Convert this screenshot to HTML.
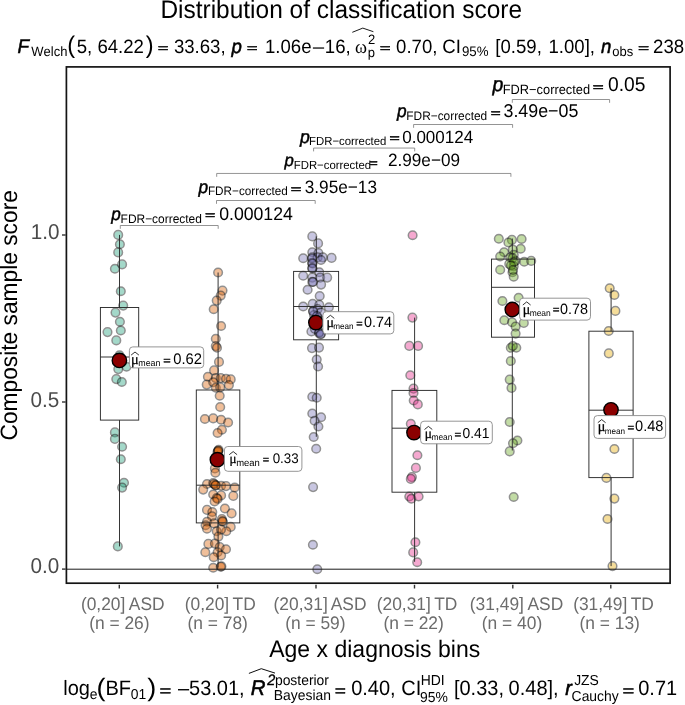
<!DOCTYPE html>
<html lang="en"><head><meta charset="utf-8"><title>Distribution of classification score</title>
<style>
html,body{margin:0;padding:0;background:#fff;}
body{width:685px;height:705px;overflow:hidden;font-family:"Liberation Sans",sans-serif;}
svg{display:block;}
text{white-space:pre;font-kerning:none;text-rendering:geometricPrecision;}
</style></head><body>
<svg width="685" height="705" viewBox="0 0 685 705">
<rect x="0" y="0" width="685" height="705" fill="#ffffff"/>
<g fill="#1B9E77" fill-opacity="0.4" stroke="#000" stroke-opacity="0.43" stroke-width="1.5">
<circle cx="118.2" cy="234.9" r="3.7" stroke="none"/><circle cx="118.2" cy="234.9" r="4.3" fill="none"/>
<circle cx="119.9" cy="244.3" r="3.7" stroke="none"/><circle cx="119.9" cy="244.3" r="4.3" fill="none"/>
<circle cx="118.2" cy="252.4" r="3.7" stroke="none"/><circle cx="118.2" cy="252.4" r="4.3" fill="none"/>
<circle cx="122.1" cy="264.4" r="3.7" stroke="none"/><circle cx="122.1" cy="264.4" r="4.3" fill="none"/>
<circle cx="114.9" cy="268.8" r="3.7" stroke="none"/><circle cx="114.9" cy="268.8" r="4.3" fill="none"/>
<circle cx="120.8" cy="291.3" r="3.7" stroke="none"/><circle cx="120.8" cy="291.3" r="4.3" fill="none"/>
<circle cx="123.2" cy="305.6" r="3.7" stroke="none"/><circle cx="123.2" cy="305.6" r="4.3" fill="none"/>
<circle cx="115.5" cy="312.6" r="3.7" stroke="none"/><circle cx="115.5" cy="312.6" r="4.3" fill="none"/>
<circle cx="119.9" cy="321.8" r="3.7" stroke="none"/><circle cx="119.9" cy="321.8" r="4.3" fill="none"/>
<circle cx="120.8" cy="330.5" r="3.7" stroke="none"/><circle cx="120.8" cy="330.5" r="4.3" fill="none"/>
<circle cx="107.5" cy="332.1" r="3.7" stroke="none"/><circle cx="107.5" cy="332.1" r="4.3" fill="none"/>
<circle cx="116.3" cy="340.4" r="3.7" stroke="none"/><circle cx="116.3" cy="340.4" r="4.3" fill="none"/>
<circle cx="119.5" cy="355.2" r="3.7" stroke="none"/><circle cx="119.5" cy="355.2" r="4.3" fill="none"/>
<circle cx="120.0" cy="360.0" r="3.7" stroke="none"/><circle cx="120.0" cy="360.0" r="4.3" fill="none"/>
<circle cx="126.5" cy="366.8" r="3.7" stroke="none"/><circle cx="126.5" cy="366.8" r="4.3" fill="none"/>
<circle cx="118.3" cy="369.1" r="3.7" stroke="none"/><circle cx="118.3" cy="369.1" r="4.3" fill="none"/>
<circle cx="116.3" cy="379.1" r="3.7" stroke="none"/><circle cx="116.3" cy="379.1" r="4.3" fill="none"/>
<circle cx="121.8" cy="382.0" r="3.7" stroke="none"/><circle cx="121.8" cy="382.0" r="4.3" fill="none"/>
<circle cx="114.9" cy="432.4" r="3.7" stroke="none"/><circle cx="114.9" cy="432.4" r="4.3" fill="none"/>
<circle cx="114.9" cy="438.9" r="3.7" stroke="none"/><circle cx="114.9" cy="438.9" r="4.3" fill="none"/>
<circle cx="122.1" cy="446.8" r="3.7" stroke="none"/><circle cx="122.1" cy="446.8" r="4.3" fill="none"/>
<circle cx="120.8" cy="459.3" r="3.7" stroke="none"/><circle cx="120.8" cy="459.3" r="4.3" fill="none"/>
<circle cx="124.0" cy="482.8" r="3.7" stroke="none"/><circle cx="124.0" cy="482.8" r="4.3" fill="none"/>
<circle cx="122.1" cy="487.6" r="3.7" stroke="none"/><circle cx="122.1" cy="487.6" r="4.3" fill="none"/>
<circle cx="117.8" cy="546.4" r="3.7" stroke="none"/><circle cx="117.8" cy="546.4" r="4.3" fill="none"/>
</g>
<g fill="#D95F02" fill-opacity="0.4" stroke="#000" stroke-opacity="0.43" stroke-width="1.5">
<circle cx="218.1" cy="272.5" r="3.7" stroke="none"/><circle cx="218.1" cy="272.5" r="4.3" fill="none"/>
<circle cx="222.5" cy="290.6" r="3.7" stroke="none"/><circle cx="222.5" cy="290.6" r="4.3" fill="none"/>
<circle cx="220.7" cy="295.6" r="3.7" stroke="none"/><circle cx="220.7" cy="295.6" r="4.3" fill="none"/>
<circle cx="216.7" cy="300.6" r="3.7" stroke="none"/><circle cx="216.7" cy="300.6" r="4.3" fill="none"/>
<circle cx="213.7" cy="309.3" r="3.7" stroke="none"/><circle cx="213.7" cy="309.3" r="4.3" fill="none"/>
<circle cx="221.1" cy="326.0" r="3.7" stroke="none"/><circle cx="221.1" cy="326.0" r="4.3" fill="none"/>
<circle cx="215.8" cy="338.7" r="3.7" stroke="none"/><circle cx="215.8" cy="338.7" r="4.3" fill="none"/>
<circle cx="215.8" cy="346.1" r="3.7" stroke="none"/><circle cx="215.8" cy="346.1" r="4.3" fill="none"/>
<circle cx="217.0" cy="347.8" r="3.7" stroke="none"/><circle cx="217.0" cy="347.8" r="4.3" fill="none"/>
<circle cx="219.0" cy="361.9" r="3.7" stroke="none"/><circle cx="219.0" cy="361.9" r="4.3" fill="none"/>
<circle cx="214.1" cy="370.4" r="3.7" stroke="none"/><circle cx="214.1" cy="370.4" r="4.3" fill="none"/>
<circle cx="207.9" cy="376.7" r="3.7" stroke="none"/><circle cx="207.9" cy="376.7" r="4.3" fill="none"/>
<circle cx="215.8" cy="378.1" r="3.7" stroke="none"/><circle cx="215.8" cy="378.1" r="4.3" fill="none"/>
<circle cx="220.7" cy="378.1" r="3.7" stroke="none"/><circle cx="220.7" cy="378.1" r="4.3" fill="none"/>
<circle cx="226.0" cy="378.7" r="3.7" stroke="none"/><circle cx="226.0" cy="378.7" r="4.3" fill="none"/>
<circle cx="230.7" cy="379.4" r="3.7" stroke="none"/><circle cx="230.7" cy="379.4" r="4.3" fill="none"/>
<circle cx="206.7" cy="384.6" r="3.7" stroke="none"/><circle cx="206.7" cy="384.6" r="4.3" fill="none"/>
<circle cx="213.2" cy="382.2" r="3.7" stroke="none"/><circle cx="213.2" cy="382.2" r="4.3" fill="none"/>
<circle cx="228.9" cy="385.1" r="3.7" stroke="none"/><circle cx="228.9" cy="385.1" r="4.3" fill="none"/>
<circle cx="215.8" cy="387.8" r="3.7" stroke="none"/><circle cx="215.8" cy="387.8" r="4.3" fill="none"/>
<circle cx="220.2" cy="387.4" r="3.7" stroke="none"/><circle cx="220.2" cy="387.4" r="4.3" fill="none"/>
<circle cx="219.7" cy="395.7" r="3.7" stroke="none"/><circle cx="219.7" cy="395.7" r="4.3" fill="none"/>
<circle cx="220.2" cy="407.0" r="3.7" stroke="none"/><circle cx="220.2" cy="407.0" r="4.3" fill="none"/>
<circle cx="204.9" cy="419.0" r="3.7" stroke="none"/><circle cx="204.9" cy="419.0" r="4.3" fill="none"/>
<circle cx="213.2" cy="418.4" r="3.7" stroke="none"/><circle cx="213.2" cy="418.4" r="4.3" fill="none"/>
<circle cx="221.1" cy="419.7" r="3.7" stroke="none"/><circle cx="221.1" cy="419.7" r="4.3" fill="none"/>
<circle cx="228.1" cy="422.5" r="3.7" stroke="none"/><circle cx="228.1" cy="422.5" r="4.3" fill="none"/>
<circle cx="221.9" cy="429.8" r="3.7" stroke="none"/><circle cx="221.9" cy="429.8" r="4.3" fill="none"/>
<circle cx="217.6" cy="433.0" r="3.7" stroke="none"/><circle cx="217.6" cy="433.0" r="4.3" fill="none"/>
<circle cx="218.1" cy="450.8" r="3.7" stroke="none"/><circle cx="218.1" cy="450.8" r="4.3" fill="none"/>
<circle cx="217.5" cy="452.0" r="3.7" stroke="none"/><circle cx="217.5" cy="452.0" r="4.3" fill="none"/>
<circle cx="218.6" cy="449.8" r="3.7" stroke="none"/><circle cx="218.6" cy="449.8" r="4.3" fill="none"/>
<circle cx="214.9" cy="468.4" r="3.7" stroke="none"/><circle cx="214.9" cy="468.4" r="4.3" fill="none"/>
<circle cx="215.4" cy="472.7" r="3.7" stroke="none"/><circle cx="215.4" cy="472.7" r="4.3" fill="none"/>
<circle cx="207.0" cy="484.0" r="3.7" stroke="none"/><circle cx="207.0" cy="484.0" r="4.3" fill="none"/>
<circle cx="213.2" cy="483.1" r="3.7" stroke="none"/><circle cx="213.2" cy="483.1" r="4.3" fill="none"/>
<circle cx="215.8" cy="485.4" r="3.7" stroke="none"/><circle cx="215.8" cy="485.4" r="4.3" fill="none"/>
<circle cx="221.1" cy="485.8" r="3.7" stroke="none"/><circle cx="221.1" cy="485.8" r="4.3" fill="none"/>
<circle cx="226.0" cy="486.1" r="3.7" stroke="none"/><circle cx="226.0" cy="486.1" r="4.3" fill="none"/>
<circle cx="234.7" cy="487.5" r="3.7" stroke="none"/><circle cx="234.7" cy="487.5" r="4.3" fill="none"/>
<circle cx="203.2" cy="489.6" r="3.7" stroke="none"/><circle cx="203.2" cy="489.6" r="4.3" fill="none"/>
<circle cx="213.2" cy="494.5" r="3.7" stroke="none"/><circle cx="213.2" cy="494.5" r="4.3" fill="none"/>
<circle cx="221.1" cy="495.4" r="3.7" stroke="none"/><circle cx="221.1" cy="495.4" r="4.3" fill="none"/>
<circle cx="233.3" cy="495.9" r="3.7" stroke="none"/><circle cx="233.3" cy="495.9" r="4.3" fill="none"/>
<circle cx="216.7" cy="498.0" r="3.7" stroke="none"/><circle cx="216.7" cy="498.0" r="4.3" fill="none"/>
<circle cx="217.6" cy="498.9" r="3.7" stroke="none"/><circle cx="217.6" cy="498.9" r="4.3" fill="none"/>
<circle cx="214.6" cy="501.5" r="3.7" stroke="none"/><circle cx="214.6" cy="501.5" r="4.3" fill="none"/>
<circle cx="207.0" cy="509.9" r="3.7" stroke="none"/><circle cx="207.0" cy="509.9" r="4.3" fill="none"/>
<circle cx="224.9" cy="508.5" r="3.7" stroke="none"/><circle cx="224.9" cy="508.5" r="4.3" fill="none"/>
<circle cx="212.3" cy="512.0" r="3.7" stroke="none"/><circle cx="212.3" cy="512.0" r="4.3" fill="none"/>
<circle cx="231.6" cy="513.4" r="3.7" stroke="none"/><circle cx="231.6" cy="513.4" r="4.3" fill="none"/>
<circle cx="212.0" cy="516.4" r="3.7" stroke="none"/><circle cx="212.0" cy="516.4" r="4.3" fill="none"/>
<circle cx="221.9" cy="519.0" r="3.7" stroke="none"/><circle cx="221.9" cy="519.0" r="4.3" fill="none"/>
<circle cx="222.8" cy="521.7" r="3.7" stroke="none"/><circle cx="222.8" cy="521.7" r="4.3" fill="none"/>
<circle cx="207.0" cy="521.7" r="3.7" stroke="none"/><circle cx="207.0" cy="521.7" r="4.3" fill="none"/>
<circle cx="214.0" cy="523.4" r="3.7" stroke="none"/><circle cx="214.0" cy="523.4" r="4.3" fill="none"/>
<circle cx="205.6" cy="525.2" r="3.7" stroke="none"/><circle cx="205.6" cy="525.2" r="4.3" fill="none"/>
<circle cx="207.0" cy="528.7" r="3.7" stroke="none"/><circle cx="207.0" cy="528.7" r="4.3" fill="none"/>
<circle cx="230.7" cy="526.9" r="3.7" stroke="none"/><circle cx="230.7" cy="526.9" r="4.3" fill="none"/>
<circle cx="226.3" cy="531.3" r="3.7" stroke="none"/><circle cx="226.3" cy="531.3" r="4.3" fill="none"/>
<circle cx="216.7" cy="531.3" r="3.7" stroke="none"/><circle cx="216.7" cy="531.3" r="4.3" fill="none"/>
<circle cx="221.0" cy="529.6" r="3.7" stroke="none"/><circle cx="221.0" cy="529.6" r="4.3" fill="none"/>
<circle cx="218.4" cy="536.6" r="3.7" stroke="none"/><circle cx="218.4" cy="536.6" r="4.3" fill="none"/>
<circle cx="208.4" cy="543.9" r="3.7" stroke="none"/><circle cx="208.4" cy="543.9" r="4.3" fill="none"/>
<circle cx="214.9" cy="543.6" r="3.7" stroke="none"/><circle cx="214.9" cy="543.6" r="4.3" fill="none"/>
<circle cx="219.7" cy="547.1" r="3.7" stroke="none"/><circle cx="219.7" cy="547.1" r="4.3" fill="none"/>
<circle cx="226.0" cy="549.2" r="3.7" stroke="none"/><circle cx="226.0" cy="549.2" r="4.3" fill="none"/>
<circle cx="205.3" cy="552.3" r="3.7" stroke="none"/><circle cx="205.3" cy="552.3" r="4.3" fill="none"/>
<circle cx="217.6" cy="552.3" r="3.7" stroke="none"/><circle cx="217.6" cy="552.3" r="4.3" fill="none"/>
<circle cx="221.1" cy="555.5" r="3.7" stroke="none"/><circle cx="221.1" cy="555.5" r="4.3" fill="none"/>
<circle cx="213.7" cy="557.2" r="3.7" stroke="none"/><circle cx="213.7" cy="557.2" r="4.3" fill="none"/>
<circle cx="213.2" cy="567.8" r="3.7" stroke="none"/><circle cx="213.2" cy="567.8" r="4.3" fill="none"/>
<circle cx="220.7" cy="566.7" r="3.7" stroke="none"/><circle cx="220.7" cy="566.7" r="4.3" fill="none"/>
<circle cx="221.4" cy="566.4" r="3.7" stroke="none"/><circle cx="221.4" cy="566.4" r="4.3" fill="none"/>
<circle cx="214.0" cy="484.0" r="3.7" stroke="none"/><circle cx="214.0" cy="484.0" r="4.3" fill="none"/>
<circle cx="215.6" cy="485.2" r="3.7" stroke="none"/><circle cx="215.6" cy="485.2" r="4.3" fill="none"/>
<circle cx="222.4" cy="521.0" r="3.7" stroke="none"/><circle cx="222.4" cy="521.0" r="4.3" fill="none"/>
<circle cx="218.2" cy="451.0" r="3.7" stroke="none"/><circle cx="218.2" cy="451.0" r="4.3" fill="none"/>
</g>
<g fill="#7570B3" fill-opacity="0.4" stroke="#000" stroke-opacity="0.43" stroke-width="1.5">
<circle cx="312.3" cy="236.4" r="3.7" stroke="none"/><circle cx="312.3" cy="236.4" r="4.3" fill="none"/>
<circle cx="318.1" cy="243.4" r="3.7" stroke="none"/><circle cx="318.1" cy="243.4" r="4.3" fill="none"/>
<circle cx="312.3" cy="252.2" r="3.7" stroke="none"/><circle cx="312.3" cy="252.2" r="4.3" fill="none"/>
<circle cx="318.4" cy="253.0" r="3.7" stroke="none"/><circle cx="318.4" cy="253.0" r="4.3" fill="none"/>
<circle cx="303.2" cy="258.3" r="3.7" stroke="none"/><circle cx="303.2" cy="258.3" r="4.3" fill="none"/>
<circle cx="312.3" cy="257.4" r="3.7" stroke="none"/><circle cx="312.3" cy="257.4" r="4.3" fill="none"/>
<circle cx="317.6" cy="257.4" r="3.7" stroke="none"/><circle cx="317.6" cy="257.4" r="4.3" fill="none"/>
<circle cx="322.8" cy="257.4" r="3.7" stroke="none"/><circle cx="322.8" cy="257.4" r="4.3" fill="none"/>
<circle cx="331.6" cy="257.9" r="3.7" stroke="none"/><circle cx="331.6" cy="257.9" r="4.3" fill="none"/>
<circle cx="312.0" cy="262.7" r="3.7" stroke="none"/><circle cx="312.0" cy="262.7" r="4.3" fill="none"/>
<circle cx="321.0" cy="260.0" r="3.7" stroke="none"/><circle cx="321.0" cy="260.0" r="4.3" fill="none"/>
<circle cx="312.3" cy="267.9" r="3.7" stroke="none"/><circle cx="312.3" cy="267.9" r="4.3" fill="none"/>
<circle cx="319.3" cy="272.3" r="3.7" stroke="none"/><circle cx="319.3" cy="272.3" r="4.3" fill="none"/>
<circle cx="303.2" cy="275.8" r="3.7" stroke="none"/><circle cx="303.2" cy="275.8" r="4.3" fill="none"/>
<circle cx="312.3" cy="277.6" r="3.7" stroke="none"/><circle cx="312.3" cy="277.6" r="4.3" fill="none"/>
<circle cx="320.2" cy="277.6" r="3.7" stroke="none"/><circle cx="320.2" cy="277.6" r="4.3" fill="none"/>
<circle cx="327.2" cy="277.6" r="3.7" stroke="none"/><circle cx="327.2" cy="277.6" r="4.3" fill="none"/>
<circle cx="312.3" cy="281.9" r="3.7" stroke="none"/><circle cx="312.3" cy="281.9" r="4.3" fill="none"/>
<circle cx="321.1" cy="284.6" r="3.7" stroke="none"/><circle cx="321.1" cy="284.6" r="4.3" fill="none"/>
<circle cx="307.6" cy="289.8" r="3.7" stroke="none"/><circle cx="307.6" cy="289.8" r="4.3" fill="none"/>
<circle cx="319.7" cy="296.0" r="3.7" stroke="none"/><circle cx="319.7" cy="296.0" r="4.3" fill="none"/>
<circle cx="303.2" cy="306.5" r="3.7" stroke="none"/><circle cx="303.2" cy="306.5" r="4.3" fill="none"/>
<circle cx="312.7" cy="303.8" r="3.7" stroke="none"/><circle cx="312.7" cy="303.8" r="4.3" fill="none"/>
<circle cx="319.3" cy="304.7" r="3.7" stroke="none"/><circle cx="319.3" cy="304.7" r="4.3" fill="none"/>
<circle cx="328.9" cy="307.3" r="3.7" stroke="none"/><circle cx="328.9" cy="307.3" r="4.3" fill="none"/>
<circle cx="313.2" cy="310.8" r="3.7" stroke="none"/><circle cx="313.2" cy="310.8" r="4.3" fill="none"/>
<circle cx="317.6" cy="309.1" r="3.7" stroke="none"/><circle cx="317.6" cy="309.1" r="4.3" fill="none"/>
<circle cx="321.0" cy="312.6" r="3.7" stroke="none"/><circle cx="321.0" cy="312.6" r="4.3" fill="none"/>
<circle cx="314.0" cy="315.0" r="3.7" stroke="none"/><circle cx="314.0" cy="315.0" r="4.3" fill="none"/>
<circle cx="318.0" cy="318.0" r="3.7" stroke="none"/><circle cx="318.0" cy="318.0" r="4.3" fill="none"/>
<circle cx="316.0" cy="322.0" r="3.7" stroke="none"/><circle cx="316.0" cy="322.0" r="4.3" fill="none"/>
<circle cx="311.4" cy="331.5" r="3.7" stroke="none"/><circle cx="311.4" cy="331.5" r="4.3" fill="none"/>
<circle cx="319.3" cy="331.9" r="3.7" stroke="none"/><circle cx="319.3" cy="331.9" r="4.3" fill="none"/>
<circle cx="321.0" cy="333.6" r="3.7" stroke="none"/><circle cx="321.0" cy="333.6" r="4.3" fill="none"/>
<circle cx="315.0" cy="329.0" r="3.7" stroke="none"/><circle cx="315.0" cy="329.0" r="4.3" fill="none"/>
<circle cx="312.0" cy="348.1" r="3.7" stroke="none"/><circle cx="312.0" cy="348.1" r="4.3" fill="none"/>
<circle cx="319.0" cy="347.6" r="3.7" stroke="none"/><circle cx="319.0" cy="347.6" r="4.3" fill="none"/>
<circle cx="316.7" cy="359.5" r="3.7" stroke="none"/><circle cx="316.7" cy="359.5" r="4.3" fill="none"/>
<circle cx="318.1" cy="366.5" r="3.7" stroke="none"/><circle cx="318.1" cy="366.5" r="4.3" fill="none"/>
<circle cx="312.3" cy="396.7" r="3.7" stroke="none"/><circle cx="312.3" cy="396.7" r="4.3" fill="none"/>
<circle cx="316.7" cy="397.7" r="3.7" stroke="none"/><circle cx="316.7" cy="397.7" r="4.3" fill="none"/>
<circle cx="312.3" cy="413.5" r="3.7" stroke="none"/><circle cx="312.3" cy="413.5" r="4.3" fill="none"/>
<circle cx="321.1" cy="417.3" r="3.7" stroke="none"/><circle cx="321.1" cy="417.3" r="4.3" fill="none"/>
<circle cx="314.6" cy="420.8" r="3.7" stroke="none"/><circle cx="314.6" cy="420.8" r="4.3" fill="none"/>
<circle cx="318.4" cy="426.5" r="3.7" stroke="none"/><circle cx="318.4" cy="426.5" r="4.3" fill="none"/>
<circle cx="313.7" cy="437.0" r="3.7" stroke="none"/><circle cx="313.7" cy="437.0" r="4.3" fill="none"/>
<circle cx="316.2" cy="448.8" r="3.7" stroke="none"/><circle cx="316.2" cy="448.8" r="4.3" fill="none"/>
<circle cx="313.1" cy="487.1" r="3.7" stroke="none"/><circle cx="313.1" cy="487.1" r="4.3" fill="none"/>
<circle cx="312.9" cy="544.7" r="3.7" stroke="none"/><circle cx="312.9" cy="544.7" r="4.3" fill="none"/>
<circle cx="317.3" cy="569.2" r="3.7" stroke="none"/><circle cx="317.3" cy="569.2" r="4.3" fill="none"/>
<circle cx="312.0" cy="258.5" r="3.7" stroke="none"/><circle cx="312.0" cy="258.5" r="4.3" fill="none"/>
<circle cx="312.5" cy="263.5" r="3.7" stroke="none"/><circle cx="312.5" cy="263.5" r="4.3" fill="none"/>
<circle cx="312.3" cy="268.5" r="3.7" stroke="none"/><circle cx="312.3" cy="268.5" r="4.3" fill="none"/>
<circle cx="313.0" cy="311.5" r="3.7" stroke="none"/><circle cx="313.0" cy="311.5" r="4.3" fill="none"/>
<circle cx="314.0" cy="320.0" r="3.7" stroke="none"/><circle cx="314.0" cy="320.0" r="4.3" fill="none"/>
<circle cx="317.0" cy="316.0" r="3.7" stroke="none"/><circle cx="317.0" cy="316.0" r="4.3" fill="none"/>
<circle cx="319.0" cy="333.0" r="3.7" stroke="none"/><circle cx="319.0" cy="333.0" r="4.3" fill="none"/>
<circle cx="320.5" cy="334.5" r="3.7" stroke="none"/><circle cx="320.5" cy="334.5" r="4.3" fill="none"/>
<circle cx="313.0" cy="282.0" r="3.7" stroke="none"/><circle cx="313.0" cy="282.0" r="4.3" fill="none"/>
</g>
<g fill="#E7298A" fill-opacity="0.4" stroke="#000" stroke-opacity="0.43" stroke-width="1.5">
<circle cx="412.6" cy="235.3" r="3.7" stroke="none"/><circle cx="412.6" cy="235.3" r="4.3" fill="none"/>
<circle cx="412.4" cy="317.6" r="3.7" stroke="none"/><circle cx="412.4" cy="317.6" r="4.3" fill="none"/>
<circle cx="409.3" cy="345.9" r="3.7" stroke="none"/><circle cx="409.3" cy="345.9" r="4.3" fill="none"/>
<circle cx="418.1" cy="345.9" r="3.7" stroke="none"/><circle cx="418.1" cy="345.9" r="4.3" fill="none"/>
<circle cx="410.3" cy="375.3" r="3.7" stroke="none"/><circle cx="410.3" cy="375.3" r="4.3" fill="none"/>
<circle cx="413.5" cy="388.6" r="3.7" stroke="none"/><circle cx="413.5" cy="388.6" r="4.3" fill="none"/>
<circle cx="413.5" cy="393.0" r="3.7" stroke="none"/><circle cx="413.5" cy="393.0" r="4.3" fill="none"/>
<circle cx="413.7" cy="400.5" r="3.7" stroke="none"/><circle cx="413.7" cy="400.5" r="4.3" fill="none"/>
<circle cx="417.8" cy="404.4" r="3.7" stroke="none"/><circle cx="417.8" cy="404.4" r="4.3" fill="none"/>
<circle cx="410.8" cy="423.7" r="3.7" stroke="none"/><circle cx="410.8" cy="423.7" r="4.3" fill="none"/>
<circle cx="417.4" cy="455.2" r="3.7" stroke="none"/><circle cx="417.4" cy="455.2" r="4.3" fill="none"/>
<circle cx="415.9" cy="467.9" r="3.7" stroke="none"/><circle cx="415.9" cy="467.9" r="4.3" fill="none"/>
<circle cx="411.9" cy="477.1" r="3.7" stroke="none"/><circle cx="411.9" cy="477.1" r="4.3" fill="none"/>
<circle cx="410.8" cy="478.9" r="3.7" stroke="none"/><circle cx="410.8" cy="478.9" r="4.3" fill="none"/>
<circle cx="409.3" cy="496.5" r="3.7" stroke="none"/><circle cx="409.3" cy="496.5" r="4.3" fill="none"/>
<circle cx="411.4" cy="498.8" r="3.7" stroke="none"/><circle cx="411.4" cy="498.8" r="4.3" fill="none"/>
<circle cx="418.6" cy="496.5" r="3.7" stroke="none"/><circle cx="418.6" cy="496.5" r="4.3" fill="none"/>
<circle cx="415.4" cy="542.2" r="3.7" stroke="none"/><circle cx="415.4" cy="542.2" r="4.3" fill="none"/>
<circle cx="413.2" cy="552.4" r="3.7" stroke="none"/><circle cx="413.2" cy="552.4" r="4.3" fill="none"/>
<circle cx="417.2" cy="562.3" r="3.7" stroke="none"/><circle cx="417.2" cy="562.3" r="4.3" fill="none"/>
</g>
<g fill="#66A61E" fill-opacity="0.4" stroke="#000" stroke-opacity="0.43" stroke-width="1.5">
<circle cx="498.8" cy="238.7" r="3.7" stroke="none"/><circle cx="498.8" cy="238.7" r="4.3" fill="none"/>
<circle cx="511.9" cy="239.9" r="3.7" stroke="none"/><circle cx="511.9" cy="239.9" r="4.3" fill="none"/>
<circle cx="521.6" cy="239.0" r="3.7" stroke="none"/><circle cx="521.6" cy="239.0" r="4.3" fill="none"/>
<circle cx="508.4" cy="242.5" r="3.7" stroke="none"/><circle cx="508.4" cy="242.5" r="4.3" fill="none"/>
<circle cx="520.7" cy="248.7" r="3.7" stroke="none"/><circle cx="520.7" cy="248.7" r="4.3" fill="none"/>
<circle cx="512.8" cy="249.5" r="3.7" stroke="none"/><circle cx="512.8" cy="249.5" r="4.3" fill="none"/>
<circle cx="504.1" cy="252.2" r="3.7" stroke="none"/><circle cx="504.1" cy="252.2" r="4.3" fill="none"/>
<circle cx="500.2" cy="256.5" r="3.7" stroke="none"/><circle cx="500.2" cy="256.5" r="4.3" fill="none"/>
<circle cx="513.7" cy="254.8" r="3.7" stroke="none"/><circle cx="513.7" cy="254.8" r="4.3" fill="none"/>
<circle cx="510.2" cy="257.4" r="3.7" stroke="none"/><circle cx="510.2" cy="257.4" r="4.3" fill="none"/>
<circle cx="515.4" cy="260.9" r="3.7" stroke="none"/><circle cx="515.4" cy="260.9" r="4.3" fill="none"/>
<circle cx="524.2" cy="261.8" r="3.7" stroke="none"/><circle cx="524.2" cy="261.8" r="4.3" fill="none"/>
<circle cx="531.2" cy="260.9" r="3.7" stroke="none"/><circle cx="531.2" cy="260.9" r="4.3" fill="none"/>
<circle cx="509.3" cy="263.9" r="3.7" stroke="none"/><circle cx="509.3" cy="263.9" r="4.3" fill="none"/>
<circle cx="513.7" cy="266.2" r="3.7" stroke="none"/><circle cx="513.7" cy="266.2" r="4.3" fill="none"/>
<circle cx="500.2" cy="269.7" r="3.7" stroke="none"/><circle cx="500.2" cy="269.7" r="4.3" fill="none"/>
<circle cx="512.5" cy="272.3" r="3.7" stroke="none"/><circle cx="512.5" cy="272.3" r="4.3" fill="none"/>
<circle cx="513.7" cy="276.7" r="3.7" stroke="none"/><circle cx="513.7" cy="276.7" r="4.3" fill="none"/>
<circle cx="502.4" cy="301.0" r="3.7" stroke="none"/><circle cx="502.4" cy="301.0" r="4.3" fill="none"/>
<circle cx="518.6" cy="297.7" r="3.7" stroke="none"/><circle cx="518.6" cy="297.7" r="4.3" fill="none"/>
<circle cx="504.3" cy="320.2" r="3.7" stroke="none"/><circle cx="504.3" cy="320.2" r="4.3" fill="none"/>
<circle cx="512.1" cy="322.2" r="3.7" stroke="none"/><circle cx="512.1" cy="322.2" r="4.3" fill="none"/>
<circle cx="523.8" cy="322.9" r="3.7" stroke="none"/><circle cx="523.8" cy="322.9" r="4.3" fill="none"/>
<circle cx="515.6" cy="326.6" r="3.7" stroke="none"/><circle cx="515.6" cy="326.6" r="4.3" fill="none"/>
<circle cx="515.6" cy="333.6" r="3.7" stroke="none"/><circle cx="515.6" cy="333.6" r="4.3" fill="none"/>
<circle cx="510.8" cy="347.8" r="3.7" stroke="none"/><circle cx="510.8" cy="347.8" r="4.3" fill="none"/>
<circle cx="516.3" cy="347.8" r="3.7" stroke="none"/><circle cx="516.3" cy="347.8" r="4.3" fill="none"/>
<circle cx="512.8" cy="346.0" r="3.7" stroke="none"/><circle cx="512.8" cy="346.0" r="4.3" fill="none"/>
<circle cx="510.8" cy="361.0" r="3.7" stroke="none"/><circle cx="510.8" cy="361.0" r="4.3" fill="none"/>
<circle cx="509.7" cy="379.6" r="3.7" stroke="none"/><circle cx="509.7" cy="379.6" r="4.3" fill="none"/>
<circle cx="511.5" cy="387.9" r="3.7" stroke="none"/><circle cx="511.5" cy="387.9" r="4.3" fill="none"/>
<circle cx="509.7" cy="422.0" r="3.7" stroke="none"/><circle cx="509.7" cy="422.0" r="4.3" fill="none"/>
<circle cx="517.4" cy="440.5" r="3.7" stroke="none"/><circle cx="517.4" cy="440.5" r="4.3" fill="none"/>
<circle cx="513.0" cy="443.3" r="3.7" stroke="none"/><circle cx="513.0" cy="443.3" r="4.3" fill="none"/>
<circle cx="509.7" cy="451.4" r="3.7" stroke="none"/><circle cx="509.7" cy="451.4" r="4.3" fill="none"/>
<circle cx="513.7" cy="497.0" r="3.7" stroke="none"/><circle cx="513.7" cy="497.0" r="4.3" fill="none"/>
<circle cx="512.5" cy="258.0" r="3.7" stroke="none"/><circle cx="512.5" cy="258.0" r="4.3" fill="none"/>
<circle cx="514.0" cy="262.0" r="3.7" stroke="none"/><circle cx="514.0" cy="262.0" r="4.3" fill="none"/>
<circle cx="511.0" cy="265.5" r="3.7" stroke="none"/><circle cx="511.0" cy="265.5" r="4.3" fill="none"/>
<circle cx="513.0" cy="270.0" r="3.7" stroke="none"/><circle cx="513.0" cy="270.0" r="4.3" fill="none"/>
</g>
<g fill="#E6AB02" fill-opacity="0.4" stroke="#000" stroke-opacity="0.43" stroke-width="1.5">
<circle cx="609.7" cy="288.3" r="3.7" stroke="none"/><circle cx="609.7" cy="288.3" r="4.3" fill="none"/>
<circle cx="614.4" cy="295.0" r="3.7" stroke="none"/><circle cx="614.4" cy="295.0" r="4.3" fill="none"/>
<circle cx="615.4" cy="310.9" r="3.7" stroke="none"/><circle cx="615.4" cy="310.9" r="4.3" fill="none"/>
<circle cx="608.7" cy="331.0" r="3.7" stroke="none"/><circle cx="608.7" cy="331.0" r="4.3" fill="none"/>
<circle cx="608.8" cy="353.4" r="3.7" stroke="none"/><circle cx="608.8" cy="353.4" r="4.3" fill="none"/>
<circle cx="611.0" cy="411.0" r="3.7" stroke="none"/><circle cx="611.0" cy="411.0" r="4.3" fill="none"/>
<circle cx="614.4" cy="449.0" r="3.7" stroke="none"/><circle cx="614.4" cy="449.0" r="4.3" fill="none"/>
<circle cx="606.4" cy="477.9" r="3.7" stroke="none"/><circle cx="606.4" cy="477.9" r="4.3" fill="none"/>
<circle cx="614.4" cy="498.6" r="3.7" stroke="none"/><circle cx="614.4" cy="498.6" r="4.3" fill="none"/>
<circle cx="607.5" cy="519.0" r="3.7" stroke="none"/><circle cx="607.5" cy="519.0" r="4.3" fill="none"/>
<circle cx="612.5" cy="566.1" r="3.7" stroke="none"/><circle cx="612.5" cy="566.1" r="4.3" fill="none"/>
</g>
<line x1="66.4" x2="670.1" y1="569.2" y2="569.2" stroke="#1a1a1a" stroke-width="1"/>
<g stroke="#2b2b2b" stroke-width="0.95" fill="none">
<rect x="100.4" y="307.5" width="38.3" height="112.6"/><line x1="100.4" x2="138.7" y1="357.0" y2="357.0"/><line x1="119.5" x2="119.5" y1="234.9" y2="307.5"/><line x1="119.5" x2="119.5" y1="420.1" y2="546.4"/>
<rect x="196.3" y="390.0" width="43.5" height="132.9"/><line x1="196.3" x2="239.8" y1="485.2" y2="485.2"/><line x1="218.1" x2="218.1" y1="272.5" y2="390.0"/><line x1="218.1" x2="218.1" y1="522.9" y2="567.5"/>
<rect x="293.6" y="271.4" width="45.0" height="68.4"/><line x1="293.6" x2="338.6" y1="306.5" y2="306.5"/><line x1="316.3" x2="316.3" y1="236.4" y2="271.4"/><line x1="316.3" x2="316.3" y1="339.8" y2="436.8"/>
<rect x="392.0" y="390.4" width="44.8" height="101.8"/><line x1="392.0" x2="436.8" y1="428.2" y2="428.2"/><line x1="414.6" x2="414.6" y1="317.6" y2="390.4"/><line x1="414.6" x2="414.6" y1="492.2" y2="561.8"/>
<rect x="491.5" y="259.1" width="43.0" height="78.1"/><line x1="491.5" x2="534.5" y1="287.3" y2="287.3"/><line x1="512.3" x2="512.3" y1="238.5" y2="259.1"/><line x1="512.3" x2="512.3" y1="337.2" y2="450.5"/>
<rect x="588.9" y="331.2" width="44.2" height="146.4"/><line x1="588.9" x2="633.1" y1="410.2" y2="410.2"/><line x1="611.1" x2="611.1" y1="288.3" y2="331.2"/><line x1="611.1" x2="611.1" y1="477.6" y2="566.1"/>
</g>
<g fill="#8b0000" stroke="#000" stroke-width="1.4">
<circle cx="119.4" cy="360.4" r="7.2"/>
<circle cx="217.4" cy="459.7" r="7.2"/>
<circle cx="315.9" cy="322.6" r="7.2"/>
<circle cx="414.0" cy="432.6" r="7.2"/>
<circle cx="512.3" cy="309.5" r="7.2"/>
<circle cx="611.0" cy="409.8" r="7.2"/>
</g>
<rect x="129.4" y="346.9" width="74.3" height="21.0" rx="3.4" ry="3.4" fill="#fff" stroke="#8a8a8a" stroke-width="0.9"/>
<path d="M131.1 355.1 L135.0 352.0 L138.9 355.1" fill="none" stroke="#000" stroke-width="0.8"/>
<text x="130.93" y="363.90" font-size="14.33" font-family='"Liberation Serif", serif' fill="#000" text-anchor="start" transform="matrix(1 0 0 1.04 0 -14.556)" stroke="#000" stroke-width="0.25">μ</text>
<text x="138.30" y="366.00" font-size="8.87" font-family='"Liberation Sans", sans-serif' fill="#000" text-anchor="start" transform="matrix(1 0 0 1.04 0 -14.640)">mean</text>
<text x="163.26" y="0" font-size="12.78" font-family='"Liberation Sans", sans-serif' fill="#000" transform="matrix(1 0 0 0.814 0 363.52)" stroke="#000" stroke-width="0.43">=</text>
<text x="173.31" y="363.70" font-size="14.77" font-family='"Liberation Sans", sans-serif' fill="#000" text-anchor="start" transform="matrix(1 0 0 1.04 0 -14.548)">0.62</text>
<rect x="224.4" y="446.5" width="77.5" height="24.8" rx="3.4" ry="3.4" fill="#fff" stroke="#8a8a8a" stroke-width="0.9"/>
<path d="M229.2 454.7 L233.2 451.6 L237.1 454.7" fill="none" stroke="#000" stroke-width="0.8"/>
<text x="229.52" y="463.50" font-size="12.97" font-family='"Liberation Serif", serif' fill="#000" text-anchor="start" transform="matrix(1 0 0 1.04 0 -18.540)" stroke="#000" stroke-width="0.25">μ</text>
<text x="236.16" y="465.60" font-size="9.46" font-family='"Liberation Sans", sans-serif' fill="#000" text-anchor="start" transform="matrix(1 0 0 1.04 0 -18.624)">mean</text>
<text x="262.85" y="0" font-size="10.93" font-family='"Liberation Sans", sans-serif' fill="#000" transform="matrix(1 0 0 0.952 0 463.12)" stroke="#000" stroke-width="0.36">=</text>
<text x="272.67" y="463.30" font-size="13.37" font-family='"Liberation Sans", sans-serif' fill="#000" text-anchor="start" transform="matrix(1 0 0 1.04 0 -18.532)">0.33</text>
<rect x="322.9" y="311.7" width="70.9" height="22.2" rx="3.4" ry="3.4" fill="#fff" stroke="#8a8a8a" stroke-width="0.9"/>
<path d="M326.5 318.4 L330.4 315.3 L334.3 318.4" fill="none" stroke="#000" stroke-width="0.8"/>
<text x="326.52" y="327.20" font-size="14.00" font-family='"Liberation Serif", serif' fill="#000" text-anchor="start" transform="matrix(1 0 0 1.04 0 -13.088)" stroke="#000" stroke-width="0.25">μ</text>
<text x="333.25" y="329.30" font-size="8.15" font-family='"Liberation Sans", sans-serif' fill="#000" text-anchor="start" transform="matrix(1 0 0 1.04 0 -13.172)">mean</text>
<text x="356.35" y="0" font-size="10.93" font-family='"Liberation Sans", sans-serif' fill="#000" transform="matrix(1 0 0 0.952 0 326.82)" stroke="#000" stroke-width="0.36">=</text>
<text x="363.92" y="327.00" font-size="14.43" font-family='"Liberation Sans", sans-serif' fill="#000" text-anchor="start" transform="matrix(1 0 0 1.04 0 -13.080)">0.74</text>
<rect x="420.6" y="421.2" width="71.7" height="22.6" rx="3.4" ry="3.4" fill="#fff" stroke="#8a8a8a" stroke-width="0.9"/>
<path d="M424.5 429.5 L428.4 426.4 L432.3 429.5" fill="none" stroke="#000" stroke-width="0.8"/>
<text x="424.64" y="438.30" font-size="13.42" font-family='"Liberation Serif", serif' fill="#000" text-anchor="start" transform="matrix(1 0 0 1.04 0 -17.532)" stroke="#000" stroke-width="0.25">μ</text>
<text x="431.43" y="440.40" font-size="8.41" font-family='"Liberation Sans", sans-serif' fill="#000" text-anchor="start" transform="matrix(1 0 0 1.04 0 -17.616)">mean</text>
<text x="454.52" y="0" font-size="11.55" font-family='"Liberation Sans", sans-serif' fill="#000" transform="matrix(1 0 0 0.901 0 437.92)" stroke="#000" stroke-width="0.38">=</text>
<text x="462.45" y="438.10" font-size="13.84" font-family='"Liberation Sans", sans-serif' fill="#000" text-anchor="start" transform="matrix(1 0 0 1.04 0 -17.524)">0.41</text>
<rect x="519.6" y="298.2" width="70.9" height="21.9" rx="3.4" ry="3.4" fill="#fff" stroke="#8a8a8a" stroke-width="0.9"/>
<path d="M522.8 305.0 L526.7 301.9 L530.6 305.0" fill="none" stroke="#000" stroke-width="0.8"/>
<text x="522.79" y="313.80" font-size="13.96" font-family='"Liberation Serif", serif' fill="#000" text-anchor="start" transform="matrix(1 0 0 1.04 0 -12.552)" stroke="#000" stroke-width="0.25">μ</text>
<text x="529.63" y="315.90" font-size="8.45" font-family='"Liberation Sans", sans-serif' fill="#000" text-anchor="start" transform="matrix(1 0 0 1.04 0 -12.636)">mean</text>
<text x="552.72" y="0" font-size="11.55" font-family='"Liberation Sans", sans-serif' fill="#000" transform="matrix(1 0 0 0.901 0 313.42)" stroke="#000" stroke-width="0.38">=</text>
<text x="560.12" y="313.60" font-size="14.39" font-family='"Liberation Sans", sans-serif' fill="#000" text-anchor="start" transform="matrix(1 0 0 1.04 0 -12.544)">0.78</text>
<rect x="594.0" y="415.6" width="71.6" height="22.8" rx="3.4" ry="3.4" fill="#fff" stroke="#8a8a8a" stroke-width="0.9"/>
<path d="M597.8 422.7 L601.7 419.6 L605.6 422.7" fill="none" stroke="#000" stroke-width="0.8"/>
<text x="597.73" y="431.50" font-size="14.17" font-family='"Liberation Serif", serif' fill="#000" text-anchor="start" transform="matrix(1 0 0 1.04 0 -17.260)" stroke="#000" stroke-width="0.25">μ</text>
<text x="604.75" y="433.60" font-size="8.15" font-family='"Liberation Sans", sans-serif' fill="#000" text-anchor="start" transform="matrix(1 0 0 1.04 0 -17.344)">mean</text>
<text x="627.52" y="0" font-size="11.55" font-family='"Liberation Sans", sans-serif' fill="#000" transform="matrix(1 0 0 0.901 0 431.12)" stroke="#000" stroke-width="0.38">=</text>
<text x="635.02" y="431.30" font-size="14.60" font-family='"Liberation Sans", sans-serif' fill="#000" text-anchor="start" transform="matrix(1 0 0 1.04 0 -17.252)">0.48</text>
<g stroke="#707070" stroke-width="0.75" fill="none">
<path d="M120.3 228.8 V225.5 H218.2 V228.8"/>
<path d="M216.5 203.8 V200.5 H315.2 V203.8"/>
<path d="M216.7 176.8 V173.45 H510.9 V176.8"/>
<path d="M313.6 151.4 V148.05 H414.7 V151.4"/>
<path d="M413.6 127.8 V124.5 H512.6 V127.8"/>
<path d="M512.3 102.8 V99.5 H609.6 V102.8"/>
</g>
<text x="111.33" y="220.10" font-size="17.09" font-family='"Liberation Sans", sans-serif' font-style="italic" fill="#000" text-anchor="start" transform="matrix(1 0 0 1.04 0 -8.804)" stroke="#000" stroke-width="0.45">p</text>
<text x="120.61" y="223.00" font-size="11.95" font-family='"Liberation Sans", sans-serif' fill="#000" text-anchor="start" transform="matrix(1 0 0 1.04 0 -8.920)">FDR−corrected</text>
<text x="205.02" y="0" font-size="17.53" font-family='"Liberation Sans", sans-serif' fill="#000" transform="matrix(1 0 0 0.662 0 219.12)" stroke="#000" stroke-width="0.77">=</text>
<text x="219.19" y="220.10" font-size="17.67" font-family='"Liberation Sans", sans-serif' fill="#000" text-anchor="start" transform="matrix(1 0 0 1.04 0 -8.804)">0.000124</text>
<text x="198.43" y="192.60" font-size="17.27" font-family='"Liberation Sans", sans-serif' font-style="italic" fill="#000" text-anchor="start" transform="matrix(1 0 0 1.04 0 -7.704)" stroke="#000" stroke-width="0.45">p</text>
<text x="207.93" y="195.50" font-size="11.74" font-family='"Liberation Sans", sans-serif' fill="#000" text-anchor="start" transform="matrix(1 0 0 1.04 0 -7.820)">FDR−corrected</text>
<text x="290.69" y="0" font-size="18.14" font-family='"Liberation Sans", sans-serif' fill="#000" transform="matrix(1 0 0 0.639 0 192.82)" stroke="#000" stroke-width="0.80">=</text>
<text x="304.75" y="192.60" font-size="17.22" font-family='"Liberation Sans", sans-serif' fill="#000" text-anchor="start" transform="matrix(1 0 0 1.04 0 -7.704)">3.95e−13</text>
<text x="284.62" y="166.30" font-size="16.73" font-family='"Liberation Sans", sans-serif' font-style="italic" fill="#000" text-anchor="start" transform="matrix(1 0 0 1.04 0 -6.652)" stroke="#000" stroke-width="0.45">p</text>
<text x="293.76" y="169.20" font-size="11.36" font-family='"Liberation Sans", sans-serif' fill="#000" text-anchor="start" transform="matrix(1 0 0 1.04 0 -6.768)">FDR−corrected</text>
<text x="369.72" y="0" font-size="13.61" font-family='"Liberation Sans", sans-serif' fill="#000" transform="matrix(1 0 0 0.852 0 167.22)" stroke="#000" stroke-width="0.60">=</text>
<text x="387.94" y="166.30" font-size="17.18" font-family='"Liberation Sans", sans-serif' fill="#000" text-anchor="start" transform="matrix(1 0 0 1.04 0 -6.652)">2.99e−09</text>
<text x="299.94" y="142.50" font-size="17.64" font-family='"Liberation Sans", sans-serif' font-style="italic" fill="#000" text-anchor="start" transform="matrix(1 0 0 1.04 0 -5.700)" stroke="#000" stroke-width="0.45">p</text>
<text x="309.06" y="145.40" font-size="11.36" font-family='"Liberation Sans", sans-serif' fill="#000" text-anchor="start" transform="matrix(1 0 0 1.04 0 -5.816)">FDR−corrected</text>
<text x="389.42" y="0" font-size="17.53" font-family='"Liberation Sans", sans-serif' fill="#000" transform="matrix(1 0 0 0.662 0 142.32)" stroke="#000" stroke-width="0.77">=</text>
<text x="402.22" y="142.50" font-size="17.01" font-family='"Liberation Sans", sans-serif' fill="#000" text-anchor="start" transform="matrix(1 0 0 1.04 0 -5.700)">0.000124</text>
<text x="396.93" y="117.10" font-size="17.27" font-family='"Liberation Sans", sans-serif' font-style="italic" fill="#000" text-anchor="start" transform="matrix(1 0 0 1.04 0 -4.684)" stroke="#000" stroke-width="0.45">p</text>
<text x="406.32" y="120.00" font-size="11.89" font-family='"Liberation Sans", sans-serif' fill="#000" text-anchor="start" transform="matrix(1 0 0 1.04 0 -4.800)">FDR−corrected</text>
<text x="490.65" y="0" font-size="16.91" font-family='"Liberation Sans", sans-serif' fill="#000" transform="matrix(1 0 0 0.686 0 117.02)" stroke="#000" stroke-width="0.74">=</text>
<text x="503.53" y="117.10" font-size="17.82" font-family='"Liberation Sans", sans-serif' fill="#000" text-anchor="start" transform="matrix(1 0 0 1.04 0 -4.684)">3.49e−05</text>
<text x="492.59" y="91.00" font-size="19.45" font-family='"Liberation Sans", sans-serif' font-style="italic" fill="#000" text-anchor="start" transform="matrix(1 0 0 1.04 0 -3.640)" stroke="#000" stroke-width="0.45">p</text>
<text x="502.74" y="93.90" font-size="12.83" font-family='"Liberation Sans", sans-serif' fill="#000" text-anchor="start" transform="matrix(1 0 0 1.04 0 -3.756)">FDR−corrected</text>
<text x="592.87" y="0" font-size="18.56" font-family='"Liberation Sans", sans-serif' fill="#000" transform="matrix(1 0 0 0.625 0 91.02)" stroke="#000" stroke-width="0.81">=</text>
<text x="608.03" y="91.00" font-size="19.25" font-family='"Liberation Sans", sans-serif' fill="#000" text-anchor="start" transform="matrix(1 0 0 1.04 0 -3.640)">0.05</text>
<rect x="66.4" y="66.9" width="603.7" height="516.3" fill="none" stroke="#141414" stroke-width="1.7"/>
<g stroke="#333" stroke-width="1.4">
<line x1="119.3" x2="119.3" y1="584.8000000000001" y2="588.5"/>
<line x1="217.6" x2="217.6" y1="584.8000000000001" y2="588.5"/>
<line x1="316.0" x2="316.0" y1="584.8000000000001" y2="588.5"/>
<line x1="414.5" x2="414.5" y1="584.8000000000001" y2="588.5"/>
<line x1="512.8" x2="512.8" y1="584.8000000000001" y2="588.5"/>
<line x1="610.8" x2="610.8" y1="584.8000000000001" y2="588.5"/>
<line x1="62.0" x2="65.7" y1="235.0" y2="235.0"/>
<line x1="62.0" x2="65.7" y1="402.0" y2="402.0"/>
<line x1="62.0" x2="65.7" y1="569.1" y2="569.1"/>
</g>
<text x="30.78" y="239.50" font-size="20.70" font-family='"Liberation Sans", sans-serif' fill="#4a4a4a" text-anchor="start" transform="matrix(1 0 0 1.04 0 -9.580)">1.0</text>
<text x="30.61" y="406.60" font-size="20.70" font-family='"Liberation Sans", sans-serif' fill="#4a4a4a" text-anchor="start" transform="matrix(1 0 0 1.04 0 -16.264)">0.5</text>
<text x="30.59" y="573.00" font-size="20.70" font-family='"Liberation Sans", sans-serif' fill="#4a4a4a" text-anchor="start" transform="matrix(1 0 0 1.04 0 -22.920)">0.0</text>
<text x="80.91" y="609.90" font-size="17.40" font-family='"Liberation Sans", sans-serif' fill="#6c6c6c" text-anchor="start" transform="matrix(1 0 0 1.04 0 -24.396)">(0,20]</text>
<text x="128.84" y="609.90" font-size="17.40" font-family='"Liberation Sans", sans-serif' fill="#6c6c6c" text-anchor="start" transform="matrix(1 0 0 1.04 0 -24.396)">ASD</text>
<text x="89.14" y="628.60" font-size="17.40" font-family='"Liberation Sans", sans-serif' fill="#6c6c6c" text-anchor="start" transform="matrix(1 0 0 1.04 0 -25.144)">(n = 26)</text>
<text x="184.71" y="609.90" font-size="17.40" font-family='"Liberation Sans", sans-serif' fill="#6c6c6c" text-anchor="start" transform="matrix(1 0 0 1.04 0 -24.396)">(0,20]</text>
<text x="232.62" y="609.90" font-size="17.40" font-family='"Liberation Sans", sans-serif' fill="#6c6c6c" text-anchor="start" transform="matrix(1 0 0 1.04 0 -24.396)">TD</text>
<text x="187.49" y="628.60" font-size="17.40" font-family='"Liberation Sans", sans-serif' fill="#6c6c6c" text-anchor="start" transform="matrix(1 0 0 1.04 0 -25.144)">(n = 78)</text>
<text x="273.59" y="609.90" font-size="17.40" font-family='"Liberation Sans", sans-serif' fill="#6c6c6c" text-anchor="start" transform="matrix(1 0 0 1.04 0 -24.396)">(20,31]</text>
<text x="330.69" y="609.90" font-size="17.40" font-family='"Liberation Sans", sans-serif' fill="#6c6c6c" text-anchor="start" transform="matrix(1 0 0 1.04 0 -24.396)">ASD</text>
<text x="285.14" y="628.60" font-size="17.40" font-family='"Liberation Sans", sans-serif' fill="#6c6c6c" text-anchor="start" transform="matrix(1 0 0 1.04 0 -25.144)">(n = 59)</text>
<text x="376.69" y="609.90" font-size="17.40" font-family='"Liberation Sans", sans-serif' fill="#6c6c6c" text-anchor="start" transform="matrix(1 0 0 1.04 0 -24.396)">(20,31]</text>
<text x="434.17" y="609.90" font-size="17.40" font-family='"Liberation Sans", sans-serif' fill="#6c6c6c" text-anchor="start" transform="matrix(1 0 0 1.04 0 -24.396)">TD</text>
<text x="383.39" y="628.60" font-size="17.40" font-family='"Liberation Sans", sans-serif' fill="#6c6c6c" text-anchor="start" transform="matrix(1 0 0 1.04 0 -25.144)">(n = 22)</text>
<text x="469.79" y="609.90" font-size="17.40" font-family='"Liberation Sans", sans-serif' fill="#6c6c6c" text-anchor="start" transform="matrix(1 0 0 1.04 0 -24.396)">(31,49]</text>
<text x="527.44" y="609.90" font-size="17.40" font-family='"Liberation Sans", sans-serif' fill="#6c6c6c" text-anchor="start" transform="matrix(1 0 0 1.04 0 -24.396)">ASD</text>
<text x="481.79" y="628.60" font-size="17.40" font-family='"Liberation Sans", sans-serif' fill="#6c6c6c" text-anchor="start" transform="matrix(1 0 0 1.04 0 -25.144)">(n = 40)</text>
<text x="573.14" y="609.90" font-size="17.40" font-family='"Liberation Sans", sans-serif' fill="#6c6c6c" text-anchor="start" transform="matrix(1 0 0 1.04 0 -24.396)">(31,49]</text>
<text x="630.67" y="609.90" font-size="17.40" font-family='"Liberation Sans", sans-serif' fill="#6c6c6c" text-anchor="start" transform="matrix(1 0 0 1.04 0 -24.396)">TD</text>
<text x="579.44" y="628.60" font-size="17.40" font-family='"Liberation Sans", sans-serif' fill="#6c6c6c" text-anchor="start" transform="matrix(1 0 0 1.04 0 -25.144)">(n = 13)</text>
<text x="160.38" y="17.60" font-size="24.47" font-family='"Liberation Sans", sans-serif' fill="#000" text-anchor="start" transform="matrix(1 0 0 1.04 0 -0.704)">Distribution of classification score</text>
<text x="269.24" y="657.40" font-size="23.00" font-family='"Liberation Sans", sans-serif' fill="#000" text-anchor="start" transform="matrix(1 0 0 1.04 0 -26.296)">Age x diagnosis bins</text>
<g transform="translate(17.1,315.3) rotate(-90)">
<text x="0.00" y="0.00" font-size="22.75" font-family='"Liberation Sans", sans-serif' fill="#000" text-anchor="middle" transform="matrix(1 0 0 1.04 0 -0.000)">Composite sample score</text>
</g>
<text x="17.53" y="53.10" font-size="18.97" font-family='"Liberation Sans", sans-serif' font-style="italic" fill="#000" text-anchor="start" transform="matrix(1 0 0 1.04 0 -2.124)" stroke="#000" stroke-width="0.5">F</text>
<text x="31.25" y="55.90" font-size="13.00" font-family='"Liberation Sans", sans-serif' fill="#000" text-anchor="start" transform="matrix(1 0 0 1.04 0 -2.236)">Welch</text>
<text x="0" y="0" font-size="19.50" font-family='"Liberation Sans", sans-serif' fill="#000" transform="matrix(1.211 0 0 1.243 67.17 53.17)">(</text>
<text x="76.75" y="53.10" font-size="18.60" font-family='"Liberation Sans", sans-serif' fill="#000" text-anchor="start" transform="matrix(1 0 0 1.04 0 -2.124)">5, 64.22</text>
<text x="0" y="0" font-size="19.50" font-family='"Liberation Sans", sans-serif' fill="#000" transform="matrix(1.211 0 0 1.243 145.87 53.17)">)</text>
<text x="157.68" y="0" font-size="18.35" font-family='"Liberation Sans", sans-serif' fill="#000" transform="matrix(1 0 0 0.632 0 52.02)" stroke="#000" stroke-width="0.65">=</text>
<text x="173.88" y="53.10" font-size="18.60" font-family='"Liberation Sans", sans-serif' fill="#000" text-anchor="start" transform="matrix(1 0 0 1.04 0 -2.124)">33.63,</text>
<text x="231.55" y="53.10" font-size="18.60" font-family='"Liberation Sans", sans-serif' font-style="italic" fill="#000" text-anchor="start" transform="matrix(1 0 0 1.04 0 -2.124)" stroke="#000" stroke-width="0.5">p</text>
<text x="246.87" y="0" font-size="18.56" font-family='"Liberation Sans", sans-serif' fill="#000" transform="matrix(1 0 0 0.625 0 52.02)" stroke="#000" stroke-width="0.65">=</text>
<text x="264.97" y="53.10" font-size="18.60" font-family='"Liberation Sans", sans-serif' fill="#000" text-anchor="start" transform="matrix(1 0 0 1.04 0 -2.124)">1.06e</text>
<text x="311.85" y="0" font-size="23.09" font-family='"Liberation Sans", sans-serif' fill="#000" transform="matrix(1 0 0 0.776 0 54.14)">−</text>
<text x="324.81" y="53.10" font-size="18.60" font-family='"Liberation Sans", sans-serif' fill="#000" text-anchor="start" transform="matrix(1 0 0 1.04 0 -2.124)">16,</text>
<text x="355.08" y="53.10" font-size="18.23" font-family='"Liberation Serif", serif' fill="#000" text-anchor="start" transform="matrix(1 0 0 1.04 0 -2.124)">ω</text>
<text x="368.09" y="44.00" font-size="13.00" font-family='"Liberation Sans", sans-serif' fill="#000" text-anchor="start" transform="matrix(1 0 0 1.04 0 -1.760)">2</text>
<text x="367.73" y="57.20" font-size="13.00" font-family='"Liberation Sans", sans-serif' fill="#000" text-anchor="start" transform="matrix(1 0 0 1.04 0 -2.288)">p</text>
<path d="M352.3 32.3 L362.8 28.1 L373.4 31.7" fill="none" stroke="#000" stroke-width="0.9"/>
<text x="379.87" y="0" font-size="18.56" font-family='"Liberation Sans", sans-serif' fill="#000" transform="matrix(1 0 0 0.625 0 52.02)" stroke="#000" stroke-width="0.65">=</text>
<text x="396.12" y="53.10" font-size="18.60" font-family='"Liberation Sans", sans-serif' fill="#000" text-anchor="start" transform="matrix(1 0 0 1.04 0 -2.124)">0.70,</text>
<text x="442.25" y="53.10" font-size="18.60" font-family='"Liberation Sans", sans-serif' fill="#000" text-anchor="start" transform="matrix(1 0 0 1.04 0 -2.124)">CI</text>
<text x="461.97" y="55.80" font-size="13.30" font-family='"Liberation Sans", sans-serif' fill="#000" text-anchor="start" transform="matrix(1 0 0 1.04 0 -2.232)">95%</text>
<text x="495.34" y="53.10" font-size="18.60" font-family='"Liberation Sans", sans-serif' fill="#000" text-anchor="start" transform="matrix(1 0 0 1.04 0 -2.124)">[0.59,</text>
<text x="548.52" y="53.10" font-size="18.60" font-family='"Liberation Sans", sans-serif' fill="#000" text-anchor="start" transform="matrix(1 0 0 1.04 0 -2.124)">1.00],</text>
<text x="600.99" y="53.10" font-size="18.60" font-family='"Liberation Sans", sans-serif' font-style="italic" fill="#000" text-anchor="start" transform="matrix(1 0 0 1.04 0 -2.124)" stroke="#000" stroke-width="0.5">n</text>
<text x="612.37" y="55.90" font-size="13.00" font-family='"Liberation Sans", sans-serif' fill="#000" text-anchor="start" transform="matrix(1 0 0 1.04 0 -2.236)">obs</text>
<text x="637.94" y="0" font-size="19.18" font-family='"Liberation Sans", sans-serif' fill="#000" transform="matrix(1 0 0 0.605 0 52.02)" stroke="#000" stroke-width="0.68">=</text>
<text x="653.07" y="53.10" font-size="18.60" font-family='"Liberation Sans", sans-serif' fill="#000" text-anchor="start" transform="matrix(1 0 0 1.04 0 -2.124)">238</text>
<text x="63.27" y="695.40" font-size="20.00" font-family='"Liberation Sans", sans-serif' fill="#000" text-anchor="start" transform="matrix(1 0 0 1.04 0 -27.816)">log</text>
<text x="89.64" y="699.00" font-size="13.90" font-family='"Liberation Sans", sans-serif' fill="#000" text-anchor="start" transform="matrix(1 0 0 1.04 0 -27.960)">e</text>
<text x="0" y="0" font-size="21.00" font-family='"Liberation Sans", sans-serif' fill="#000" transform="matrix(1.288 0 0 1.205 96.56 696.15)">(</text>
<text x="105.40" y="695.40" font-size="20.00" font-family='"Liberation Sans", sans-serif' fill="#000" text-anchor="start" transform="matrix(1 0 0 1.04 0 -27.816)">BF</text>
<text x="130.84" y="699.20" font-size="13.90" font-family='"Liberation Sans", sans-serif' fill="#000" text-anchor="start" transform="matrix(1 0 0 1.04 0 -27.968)">01</text>
<text x="0" y="0" font-size="21.00" font-family='"Liberation Sans", sans-serif' fill="#000" transform="matrix(1.288 0 0 1.205 147.25 696.15)">)</text>
<text x="159.59" y="0" font-size="20.21" font-family='"Liberation Sans", sans-serif' fill="#000" transform="matrix(1 0 0 0.772 0 696.13)" stroke="#000" stroke-width="0.48">=</text>
<text x="177.90" y="695.40" font-size="20.00" font-family='"Liberation Sans", sans-serif' fill="#000" text-anchor="start" transform="matrix(1 0 0 1.04 0 -27.816)">–53.01,</text>
<text x="250.63" y="695.40" font-size="20.40" font-family='"Liberation Sans", sans-serif' font-style="italic" fill="#000" text-anchor="start" transform="matrix(1 0 0 1.04 0 -27.816)" stroke="#000" stroke-width="0.55">R</text>
<text x="267.26" y="684.60" font-size="14.46" font-family='"Liberation Sans", sans-serif' font-style="italic" fill="#000" text-anchor="start" transform="matrix(1 0 0 1.04 0 -27.384)" stroke="#000" stroke-width="0.3">2</text>
<path d="M248.9 673.4 L261.3 668.7 L275.0 673.1" fill="none" stroke="#000" stroke-width="0.95"/>
<text x="274.92" y="684.60" font-size="13.90" font-family='"Liberation Sans", sans-serif' fill="#000" text-anchor="start" transform="matrix(1 0 0 1.04 0 -27.384)">posterior</text>
<text x="273.85" y="700.50" font-size="13.90" font-family='"Liberation Sans", sans-serif' fill="#000" text-anchor="start" transform="matrix(1 0 0 1.04 0 -28.020)">Bayesian</text>
<text x="334.74" y="0" font-size="19.18" font-family='"Liberation Sans", sans-serif' fill="#000" transform="matrix(1 0 0 0.814 0 696.13)" stroke="#000" stroke-width="0.45">=</text>
<text x="351.15" y="695.40" font-size="20.00" font-family='"Liberation Sans", sans-serif' fill="#000" text-anchor="start" transform="matrix(1 0 0 1.04 0 -27.816)">0.40,</text>
<text x="401.32" y="695.40" font-size="20.00" font-family='"Liberation Sans", sans-serif' fill="#000" text-anchor="start" transform="matrix(1 0 0 1.04 0 -27.816)">CI</text>
<text x="420.80" y="685.30" font-size="13.90" font-family='"Liberation Sans", sans-serif' fill="#000" text-anchor="start" transform="matrix(1 0 0 1.04 0 -27.412)">HDI</text>
<text x="419.96" y="701.50" font-size="13.90" font-family='"Liberation Sans", sans-serif' fill="#000" text-anchor="start" transform="matrix(1 0 0 1.04 0 -28.060)">95%</text>
<text x="453.95" y="695.40" font-size="20.00" font-family='"Liberation Sans", sans-serif' fill="#000" text-anchor="start" transform="matrix(1 0 0 1.04 0 -27.816)">[0.33,</text>
<text x="508.62" y="695.40" font-size="20.00" font-family='"Liberation Sans", sans-serif' fill="#000" text-anchor="start" transform="matrix(1 0 0 1.04 0 -27.816)">0.48],</text>
<text x="565.25" y="695.40" font-size="20.00" font-family='"Liberation Sans", sans-serif' font-style="italic" fill="#000" text-anchor="start" transform="matrix(1 0 0 1.04 0 -27.816)" stroke="#000" stroke-width="0.55">r</text>
<text x="574.17" y="685.10" font-size="13.90" font-family='"Liberation Sans", sans-serif' fill="#000" text-anchor="start" transform="matrix(1 0 0 1.04 0 -27.404)">JZS</text>
<text x="571.61" y="701.30" font-size="13.90" font-family='"Liberation Sans", sans-serif' fill="#000" text-anchor="start" transform="matrix(1 0 0 1.04 0 -28.052)">Cauchy</text>
<text x="622.49" y="0" font-size="20.21" font-family='"Liberation Sans", sans-serif' fill="#000" transform="matrix(1 0 0 0.772 0 696.13)" stroke="#000" stroke-width="0.48">=</text>
<text x="638.23" y="695.40" font-size="20.00" font-family='"Liberation Sans", sans-serif' fill="#000" text-anchor="start" transform="matrix(1 0 0 1.04 0 -27.816)">0.71</text>
</svg>
</body></html>
